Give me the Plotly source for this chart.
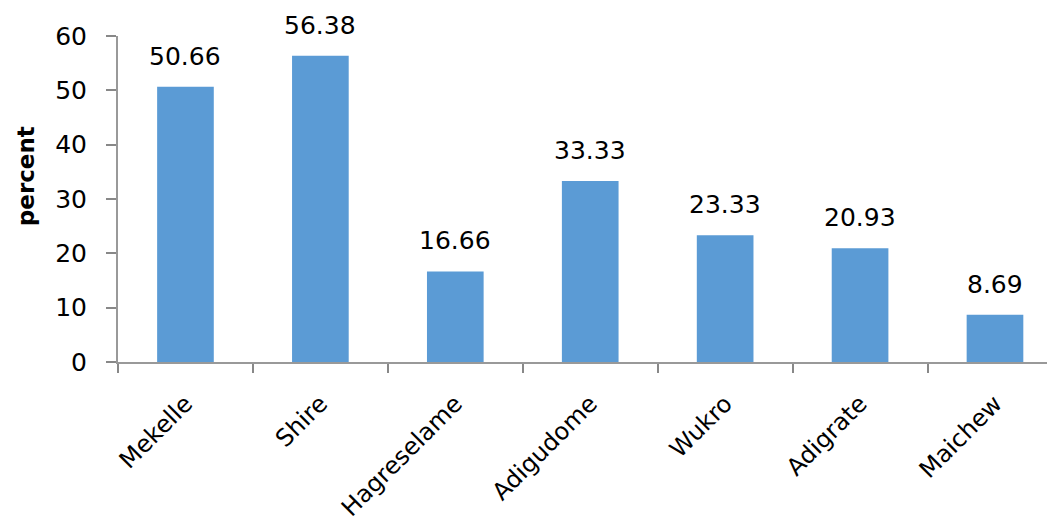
import plotly.graph_objects as go

categories = ["Mekelle", "Shire", "Hagreselame", "Adigudome", "Wukro", "Adigrate", "Maichew"]
values = [50.66, 56.38, 16.66, 33.33, 23.33, 20.93, 8.69]
y_ticks = [0, 10, 20, 30, 40, 50, 60]

FONT = "DejaVu Sans, sans-serif"
AXIS_COLOR = "#999999"

fig = go.Figure()
fig.add_trace(go.Bar(
    x=categories, y=values,
    marker=dict(color="#5B9BD5", line=dict(width=0)),
    width=0.42,
))
for c, v in zip(categories, values):
    fig.add_annotation(x=c, y=v, text=f"{v:.2f}", showarrow=False,
                       yanchor="bottom", yshift=14,
                       font=dict(family=FONT, size=25, color="#000000"))

# y-axis title
fig.add_annotation(xref="paper", yref="paper", x=0, y=0.57, xshift=-92,
                   text="<b>percent</b>", textangle=-90, showarrow=False,
                   xanchor="center", yanchor="middle",
                   font=dict(family=FONT, size=23, color="#000000"))

fig.update_layout(
    width=1045, height=516,
    margin=dict(l=110, r=0, t=28, b=162),
    paper_bgcolor="white", plot_bgcolor="white",
    showlegend=False,
    font=dict(family=FONT, size=25, color="#000000"),
)
fig.update_xaxes(
    type="category", range=[-0.5, 6.43], automargin=False,
    showgrid=False, showline=True, linecolor=AXIS_COLOR, linewidth=2,
    ticks="outside", tickson="boundaries", ticklen=9, tickcolor="#888888", tickwidth=1.5,
    tickangle=-45, ticklabelstandoff=16,
    tickfont=dict(family=FONT, size=24, color="#000000"),
)
fig.update_yaxes(
    range=[0, 60], tickvals=y_ticks, showgrid=False, zeroline=False, automargin=False,
    showline=True, linecolor=AXIS_COLOR, linewidth=2,
    ticks="outside", ticklen=10, tickcolor="#888888", tickwidth=1.5,
    ticklabelstandoff=14,
    tickfont=dict(family=FONT, size=25, color="#000000"),
)
fig.write_html("out.html")
